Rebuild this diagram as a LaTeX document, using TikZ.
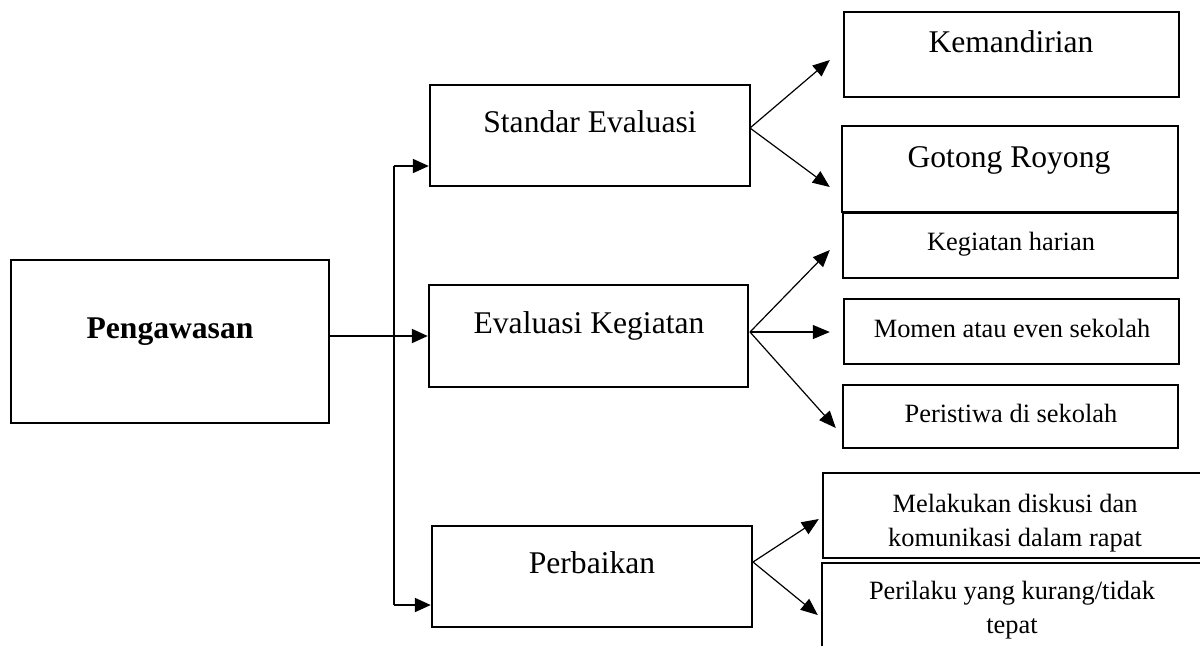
\documentclass[tikz,border=0pt]{standalone}
\usepackage{fontspec}
\setmainfont{Liberation Serif}
\usetikzlibrary{arrows.meta,calc,fit}
\begin{document}
\begin{tikzpicture}[x=0.5pt,y=-0.5pt,
  box/.style={draw,line width=1.2pt,rectangle,inner sep=0pt},
  big/.style={font=\fontsize{15.8}{19}\selectfont,inner sep=0pt,anchor=base},
  bigb/.style={font=\fontsize{15.8}{19}\selectfont\bfseries,inner sep=0pt,anchor=base},
  small/.style={font=\fontsize{13.2}{17}\selectfont,inner sep=0pt,anchor=base,align=center},
  arr/.style={line width=0.6pt,-{Triangle[length=8.5pt,width=7pt]}},
  arrt/.style={line width=1pt,-{Triangle[length=8pt,width=7pt]}},
  trunk/.style={line width=1pt}]
\useasboundingbox (0,0) rectangle (1200,645);
\clip (0,0) rectangle (1200,645);
% boxes
\node[box,fit={(11,260)(329,423)}] (pg) {};
\node[box,fit={(430,85)(750,186)}] (se) {};
\node[box,fit={(429,285)(748,387)}] (ek) {};
\node[box,fit={(432,526)(752,627)}] (pb) {};
\node[box,fit={(844,12)(1179,97)}] (km) {};
\node[box,fit={(842,126)(1178,212)}] (gr) {};
\node[box,fit={(843,213)(1178,278)}] (kh) {};
\node[box,fit={(844,299)(1179,364)}] (mo) {};
\node[box,fit={(843,385)(1178,448)}] (pe) {};
\node[box,fit={(823,473)(1215,558)}] (md) {};
\node[box,fit={(822,563)(1215,690)}] (pl) {};
% texts
\node[bigb] (tpg) at (170,338) {Pengawasan};
\node[big] (tse) at (590,132) {Standar Evaluasi};
\node[big] (tek) at (589,333) {Evaluasi Kegiatan};
\node[big] (tpb) at (592,573) {Perbaikan};
\node[big] (tkm) at (1011,52) {Kemandirian};
\node[big] (tgr) at (1009,167) {Gotong Royong};
\node[small] (tkh) at (1011,250) {Kegiatan harian};
\node[small] (tmo) at (1012,337) {Momen atau even sekolah};
\node[small] (tpe) at (1011,422) {Peristiwa di sekolah};
\node[small] (tmd) at (1015,546) {Melakukan diskusi dan\\komunikasi dalam rapat};
\node[small] (tpl) at (1012,633) {Perilaku yang kurang/tidak\\tepat};
% trunk connectors
\coordinate (vt) at (394,166);
\coordinate (vb) at (394,605);
\draw[trunk] (vt) -- (vb);
\draw[arrt] (pg.east |- ek.west) -- (ek.west);
\draw[arrt] (vt) -- (vt -| se.west);
\draw[arrt] (vb) -- (vb -| pb.west);
% fans
\coordinate (f1) at (750,128);
\draw[arr] (f1) -- ($(km.west)+(-13,5.5)$);
\draw[arr] (f1) -- ($(gr.west)+(-11,18)$);
\coordinate (f2) at (750,332);
\draw[arr] (f2) -- ($(kh.west)+(-12,4.5)$);
\draw[arr] (f2) -- ($(mo.west)+(-13,0.5)$);
\draw[arr] (f2) -- ($(pe.west)+(-6,11.5)$);
\coordinate (f3) at (753,562);
\draw[arr] (f3) -- ($(md.west)+(-3,3.5)$);
\draw[arr] (f3) -- ($(pl.west)+(-3,-11.5)$);
\end{tikzpicture}
\end{document}
